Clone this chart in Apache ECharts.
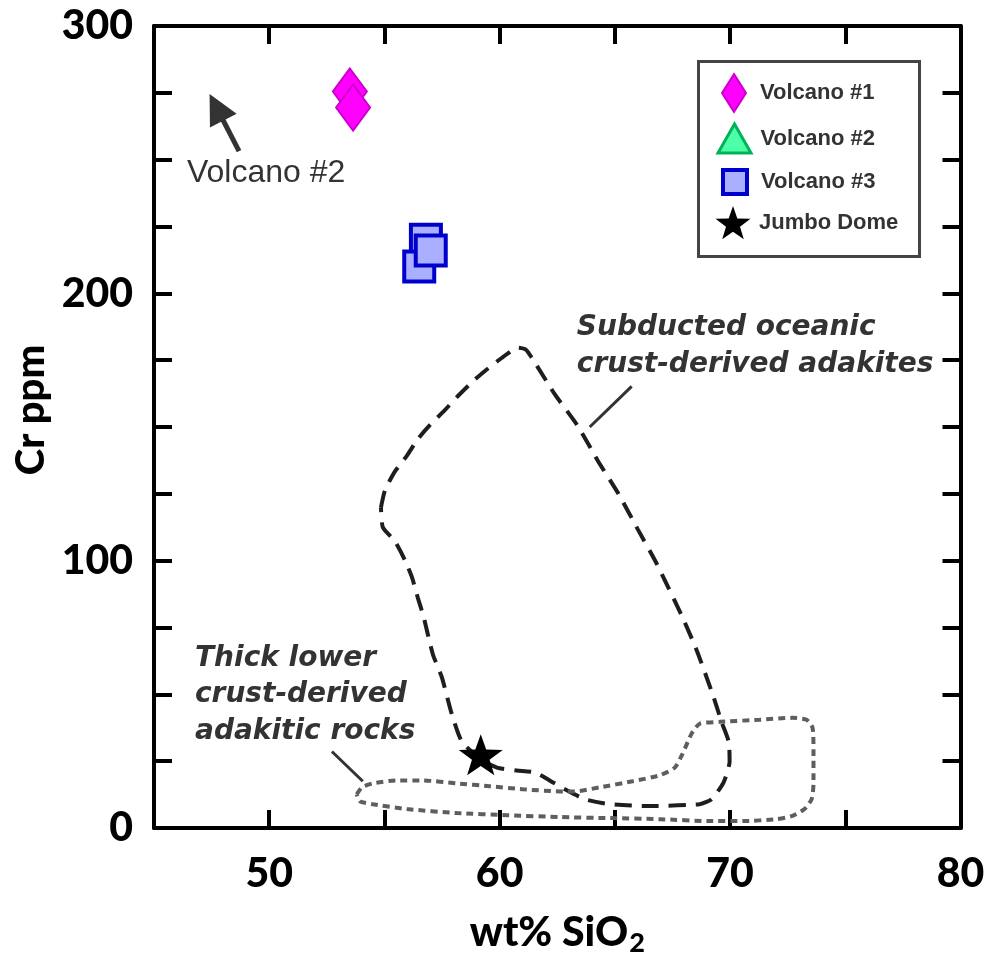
<!DOCTYPE html>
<html>
<head>
<meta charset="utf-8">
<script src="https://cdn.jsdelivr.net/npm/echarts@6/dist/echarts.min.js"></script>
<style>
html,body{margin:0;padding:0;background:#fff;}
#chart{width:990px;height:962px;}
</style>
</head>
<body>
<div id="chart"></div>
<script>
// ---------- data ----------
const xTickLabels = [50, 60, 70, 80];
const yTickLabels = [0, 100, 200, 300];

const seriesNames = ['Volcano #1', 'Volcano #2', 'Volcano #3', 'Jumbo Dome'];

// [wt% SiO2, Cr ppm]
const volcano1 = [[53.50, 275.5], [53.64, 269.5]];
const volcano2 = []; // plots off the diagram (arrow)
const volcano3 = [[56.80, 220.0], [56.51, 210.0], [57.01, 216.0]];
const jumboDome = [[59.18, 27.4]];

// field outlines [wt% SiO2, Cr ppm]
const subductedOutline = [
  [54.85,119.9],[55.02,126.2],[55.45,133.3],[55.97,139.2],[56.45,145.5],[56.97,150.7],
  [57.62,156.3],[58.18,161.5],[58.84,167.1],[59.44,171.5],[60.18,176.4],[60.79,179.7],
  [61.13,179.0],[61.44,175.3],[62.39,162.3],[63.39,150.4],[64.26,137.4],[65.17,124.8],
  [65.99,111.8],[66.82,98.8],[67.94,78.7],[68.55,66.5],[69.24,50.1],[69.63,39.7],
  [69.94,32.3],[69.98,24.9],[69.72,17.1],[69.20,10.8],[68.68,8.9],[66.51,8.2],
  [64.78,8.9],[63.69,10.8],[62.83,14.5],[62.17,17.8],[61.52,20.8],[60.74,21.5],
  [59.88,22.6],[59.14,26.0],[58.36,32.3],[57.92,42.7],[57.49,56.4],[57.10,65.0],
  [56.71,78.7],[56.45,86.1],[56.19,93.9],[55.89,100.2],[55.45,107.3],[54.93,112.5],
  [54.85,119.9]
];
const thickCrustOutline = [
  [53.80,12.6],[54.02,15.2],[54.50,16.7],[55.54,17.8],[56.67,17.8],[58.14,16.7],
  [59.57,15.6],[61.00,14.5],[62.61,13.7],[63.26,13.7],[64.34,15.2],[65.77,17.5],
  [66.95,19.7],[67.60,22.6],[67.94,27.8],[68.33,35.3],[68.68,39.0],[69.55,39.7],
  [71.28,40.5],[72.71,41.2],[73.32,40.5],[73.58,37.5],[73.62,29.3],[73.62,16.7],
  [73.54,10.8],[73.23,7.1],[72.71,4.5],[72.02,3.3],[70.55,2.6],[69.11,2.6],
  [66.95,3.3],[64.78,3.7],[62.61,4.1],[60.31,4.8],[58.14,5.6],[55.97,7.1],
  [54.50,8.9],[53.93,10.0],[53.80,12.6]
];

// annotations (anchor points in data units)
const annotationTexts = [
  {coord: [46.43, 245.0], text: 'Volcano #2', kind: 'plain'},
  {coord: [63.35, 193.8], text: 'Subducted oceanic\ncrust-derived adakites', kind: 'italic'},
  {coord: [46.78, 70.2], text: 'Thick lower\ncrust-derived\nadakitic rocks', kind: 'italic'}
];
const arrowLine = [[48.69, 253.2], [47.71, 269.6]];
const leaderLines = [
  [[63.91, 150.0], [65.73, 165.2]],
  [[52.72, 28.6], [54.06, 17.5]]
];

// ---------- chart ----------
const chart = echarts.init(document.getElementById('chart'), null, {renderer: 'canvas'});

const STAR = 'path://M0,-1 L0.235,-0.324 L0.951,-0.309 L0.380,0.124 L0.588,0.809 L0,0.4 L-0.588,0.809 L-0.380,0.124 L-0.951,-0.309 L-0.235,-0.324 Z';

const axisFont = {fontFamily: 'Lato', fontWeight: 900, fontSize: 41, color: '#000'};
const lineCommon = {lineStyle: {color: '#000', width: 4}};
const tickCommon = {inside: true, length: 18, lineStyle: {color: '#000', width: 4}};

function baseX(pos, showLabel) {
  return {
    type: 'value', position: pos, min: 45, max: 80, interval: 5,
    axisLine: Object.assign({show: true, onZero: false}, lineCommon),
    axisTick: tickCommon,
    splitLine: {show: false},
    axisLabel: showLabel ? Object.assign({
      margin: 25,
      formatter: v => xTickLabels.includes(v) ? String(v) : ''
    }, axisFont) : {show: false}
  };
}
function baseY(pos, showLabel) {
  return {
    type: 'value', position: pos, min: 0, max: 300, interval: 25,
    axisLine: Object.assign({show: true, onZero: false}, lineCommon),
    axisTick: tickCommon,
    splitLine: {show: false},
    axisLabel: showLabel ? Object.assign({
      margin: 21,
      formatter: v => yTickLabels.includes(v) ? String(v) : ''
    }, axisFont) : {show: false}
  };
}

const xBottom = baseX('bottom', true);
xBottom.name = '{a|wt% SiO}{b|2}';
xBottom.nameLocation = 'middle';
xBottom.nameGap = 80;
xBottom.nameTextStyle = {
  rich: {
    a: {fontFamily: 'Lato', fontWeight: 900, fontSize: 41, color: '#000'},
    b: {fontFamily: 'Lato', fontWeight: 900, fontSize: 27, color: '#000', verticalAlign: 'bottom', padding: [22, 0, 0, 1]}
  }
};
const xTop = baseX('top', false);
const yLeft = baseY('left', true);
yLeft.name = 'Cr ppm';
yLeft.nameLocation = 'middle';
yLeft.nameRotate = 90;
yLeft.nameGap = 96;
yLeft.nameTextStyle = {fontFamily: 'Lato', fontWeight: 900, fontSize: 40, color: '#000', padding: [0, 0, 0, 34]};
const yRight = baseY('right', false);

const legendText = {fontFamily: 'Liberation Sans', fontWeight: 'bold', fontSize: 22, color: '#333', lineHeight: 24};
function legendFor(name, icon, w, h, cx, cy, bw) {
  return {
    data: [{name: name, icon: icon}],
    orient: 'vertical',
    left: cx - w / 2, top: cy - h / 2,
    padding: 0,
    itemWidth: w, itemHeight: h,
    selectedMode: false,
    itemStyle: {borderWidth: bw},
    textStyle: Object.assign({padding: [0, 0, 0, 759 - (cx + w / 2 + 5)]}, legendText)
  };
}

const option = {
  animation: false,
  backgroundColor: '#fff',
  grid: {left: 154, right: 29.5, top: 26, bottom: 130, containLabel: false},
  xAxis: [xBottom, xTop],
  yAxis: [yLeft, yRight],
  legend: [
    legendFor('Volcano #1', 'diamond', 24, 38, 733, 92, 2),
    legendFor('Volcano #2', 'triangle', 33, 29, 733, 137, 3),
    legendFor('Volcano #3', 'rect', 24, 24, 733, 180, 4),
    legendFor('Jumbo Dome', STAR, 35, 34, 733, 223, 0)
  ],
  graphic: [{
    type: 'rect', left: 697, top: 60, z: 0,
    shape: {width: 221, height: 195},
    style: {fill: '#fff', stroke: '#444', lineWidth: 3}
  }],
  series: [
    {
      name: 'Subducted field', type: 'line', data: subductedOutline,
      symbol: 'none', smooth: 0.2, silent: true, z: 2,
      lineStyle: {color: '#1e1e1e', width: 4, type: [17, 10]}
    },
    {
      name: 'Thick crust field', type: 'line', data: thickCrustOutline,
      symbol: 'none', smooth: 0.2, silent: true, z: 2,
      lineStyle: {color: '#5e5e5e', width: 4, type: [7, 5]}
    },
    {
      name: 'Volcano #1', type: 'scatter', data: volcano1, z: 5,
      symbol: 'diamond', symbolSize: [34, 46],
      itemStyle: {color: '#ff00ff', borderColor: '#cc00cc', borderWidth: 2, opacity: 1}
    },
    {
      name: 'Volcano #2', type: 'scatter', data: volcano2, z: 5,
      symbol: 'triangle', symbolSize: 30,
      itemStyle: {color: '#4dffa6', borderColor: '#00b35a', borderWidth: 3, opacity: 1}
    },
    {
      name: 'Volcano #3', type: 'scatter', data: volcano3, z: 5,
      symbol: 'rect', symbolSize: 30,
      itemStyle: {color: '#aab0ff', borderColor: '#0000cc', borderWidth: 4, opacity: 1}
    },
    {
      name: 'Jumbo Dome', type: 'scatter', data: jumboDome, z: 6,
      symbol: STAR, symbolSize: [44, 41], symbolKeepAspect: false,
      itemStyle: {color: '#000', opacity: 1}
    },
    {
      name: 'annotations', type: 'scatter', z: 4, silent: true,
      data: annotationTexts.map(a => ({value: a.coord,
        label: a.kind === 'plain'
          ? {show: true, position: 'right', distance: 0, formatter: a.text,
             fontFamily: 'Liberation Sans', fontSize: 32, color: '#333'}
          : {show: true, position: [0, 0], align: 'left', verticalAlign: 'top', formatter: a.text,
             fontFamily: 'DejaVu Sans', fontStyle: 'italic', fontWeight: 'bold', fontSize: 28,
             lineHeight: 36.5, color: '#333'}
      })),
      symbolSize: 0,
      itemStyle: {color: 'transparent', opacity: 1},
      markLine: {
        silent: true, animation: false,
        label: {show: false},
        emphasis: {disabled: true},
        data: [
          [{coord: arrowLine[0], symbol: 'none', lineStyle: {color: '#333', width: 5, type: 'solid', opacity: 1}},
           {coord: arrowLine[1], symbol: 'triangle', symbolSize: 30}],
          ...leaderLines.map(l => [
            {coord: l[0], symbol: 'none', lineStyle: {color: '#333', width: 3, type: 'solid', opacity: 1}},
            {coord: l[1], symbol: 'none'}
          ])
        ]
      }
    }
  ]
};
chart.setOption(option);
</script>
</body>
</html>
